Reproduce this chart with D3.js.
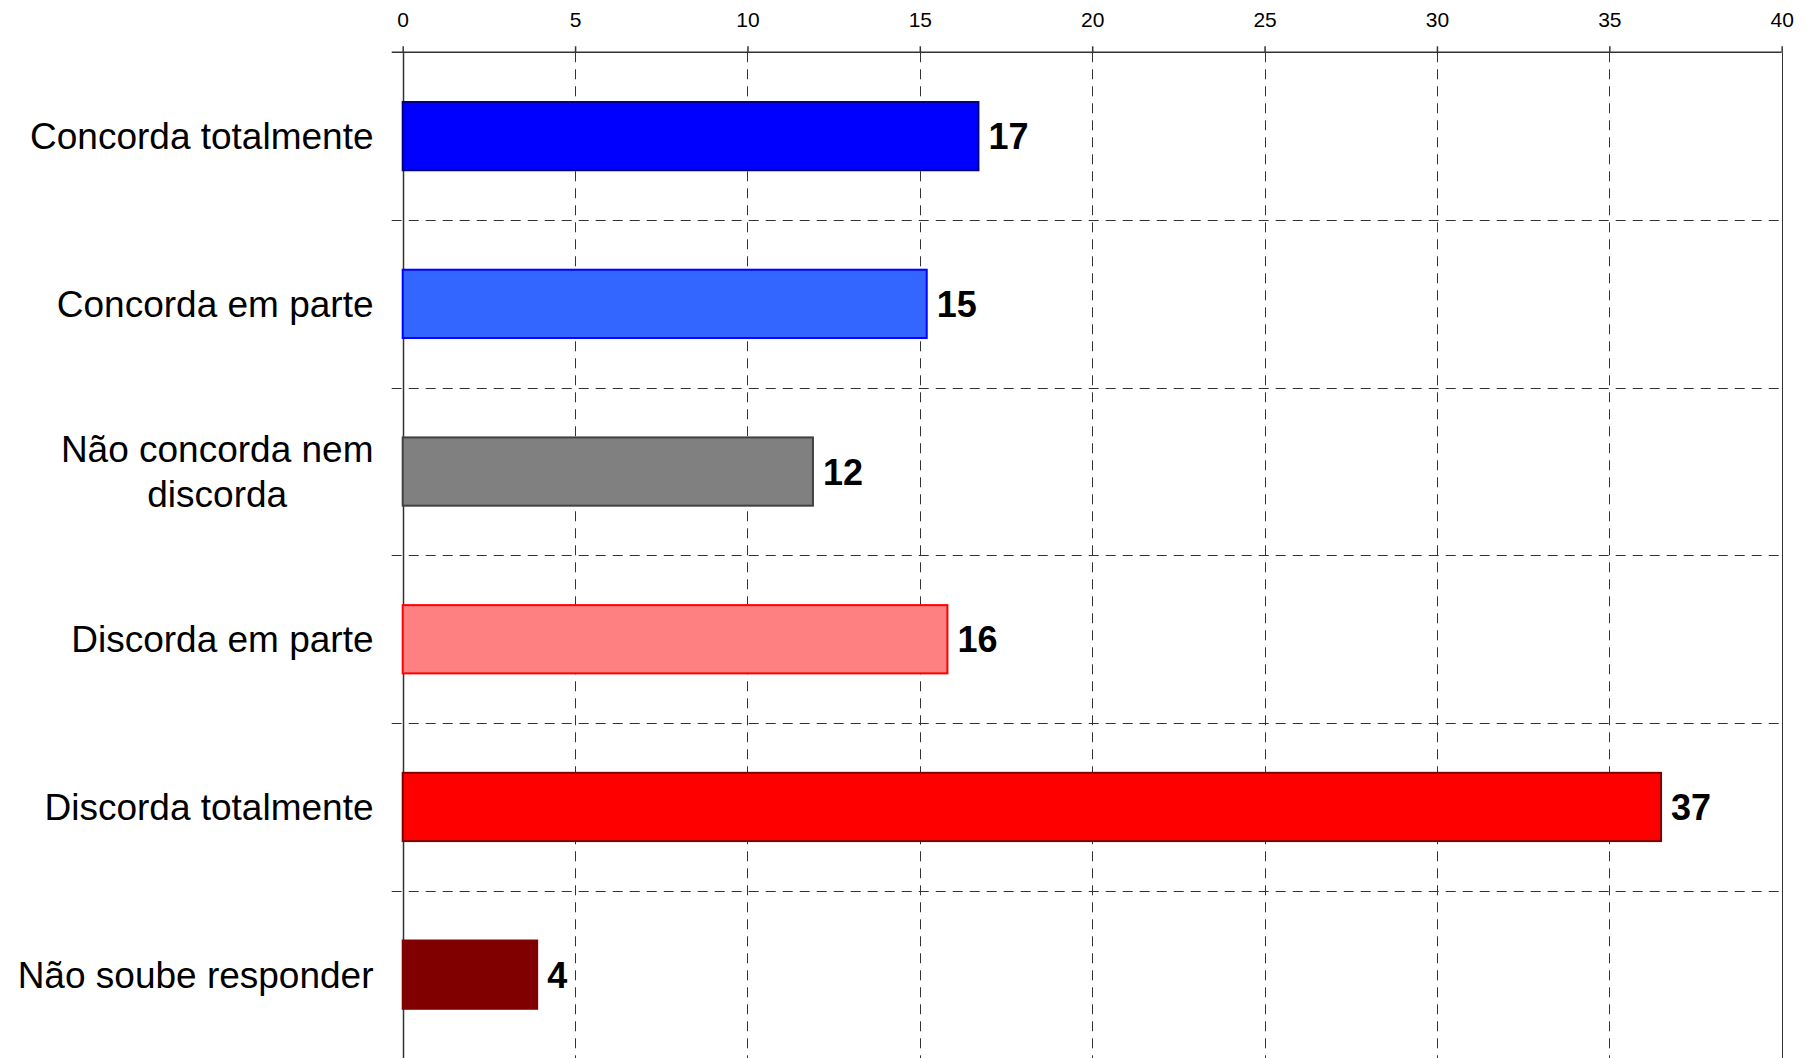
<!DOCTYPE html>
<html>
<head>
<meta charset="utf-8">
<script src="https://cdn.jsdelivr.net/npm/d3@7"></script>
<style>
  html, body { margin: 0; padding: 0; background: #fff; overflow: hidden; }
  text { font-family: "Liberation Sans", Arial, sans-serif; }
</style>
</head>
<body>
<svg id="chart" width="1811" height="1058"></svg>
<script>
const categories = ["Concorda totalmente", "Concorda em parte", "Não concorda nem discorda", "Discorda em parte", "Discorda totalmente", "Não soube responder"];
const values = [16.7, 15.2, 11.9, 15.8, 36.5, 3.9];
const labels = ["17", "15", "12", "16", "37", "4"];
const fills = ["#0000FF", "#3366FF", "#808080", "#FF8080", "#FF0000", "#800000"];
const strokes = ["#000080", "#0000FF", "#404040", "#FF0000", "#800000", "#800000"];
const tickValues = [0, 5, 10, 15, 20, 25, 30, 35, 40];

(function () {
const svg = d3.select("#chart");
const pLeft = 402.7, pRight = 1781.7, pTop = 52.3, step = 167.7;

const x = d3.scaleLinear().domain([0, 40]).range([pLeft, pRight]);
const y = d3.scaleBand().domain(categories)
  .range([pTop, pTop + step * categories.length])
  .paddingInner(0.593).paddingOuter(0.2965);

const pBottom = y.range()[1];

// vertical gridlines (dashed)
svg.append("g").selectAll("line").data(tickValues.filter(v => v > 0 && v < 40)).join("line")
  .attr("x1", d => Math.round(x(d)) + 0.5).attr("x2", d => Math.round(x(d)) + 0.5)
  .attr("y1", pTop).attr("y2", pBottom)
  .attr("stroke", "#333").attr("stroke-width", 1).attr("stroke-dasharray", "10,7");

// horizontal gridlines at band boundaries
const bounds = d3.range(1, categories.length).map(i => y.range()[0] + i * y.step());
svg.append("g").selectAll("line").data(bounds).join("line")
  .attr("x1", pLeft - 11).attr("x2", pRight)
  .attr("y1", d => Math.round(d) + 0.5).attr("y2", d => Math.round(d) + 0.5)
  .attr("stroke", "#333").attr("stroke-width", 1).attr("stroke-dasharray", "10,7");

// right border
svg.append("line")
  .attr("x1", Math.round(pRight) + 0.5).attr("x2", Math.round(pRight) + 0.5)
  .attr("y1", pTop).attr("y2", pBottom)
  .attr("stroke", "#333").attr("stroke-width", 1);

// left axis line
svg.append("line")
  .attr("x1", Math.round(pLeft) + 0.5).attr("x2", Math.round(pLeft) + 0.5)
  .attr("y1", pTop).attr("y2", pBottom)
  .attr("stroke", "#333").attr("stroke-width", 1.5);

// top axis
const axis = svg.append("g").attr("transform", `translate(0,${pTop})`)
  .call(d3.axisTop(x).tickValues(tickValues).tickSize(6).tickSizeOuter(0).tickPadding(19));
axis.select(".domain").remove();
axis.selectAll(".tick line").attr("stroke", "#333").attr("stroke-width", 1.5);
axis.selectAll(".tick text").attr("font-size", 21).attr("fill", "#000")
  .style("font-family", '"Liberation Sans", Arial, sans-serif');
svg.append("line").attr("x1", pLeft - 11).attr("x2", pRight)
  .attr("y1", pTop).attr("y2", pTop).attr("stroke", "#333").attr("stroke-width", 1.5);

// bars
svg.append("g").selectAll("rect").data(categories).join("rect")
  .attr("x", x(0))
  .attr("y", d => y(d))
  .attr("width", (d, i) => x(values[i]) - x(0))
  .attr("height", y.bandwidth())
  .attr("fill", (d, i) => fills[i])
  .attr("stroke", (d, i) => strokes[i])
  .attr("stroke-width", 2);

// value labels
svg.append("g").selectAll("text").data(categories).join("text")
  .attr("x", (d, i) => x(values[i]) + 10)
  .attr("y", d => y(d) + y.bandwidth() / 2)
  .attr("dy", "0.36em")
  .attr("font-size", 36).attr("font-weight", "bold").attr("fill", "#000")
  .text((d, i) => labels[i]);

// category labels with wrapping, centered lines, right-aligned block
const labelRight = 373.5;
const maxW = 365;
const fs = 37, lh = 45.6;
categories.forEach(cat => {
  const g = svg.append("g");
  const t = g.append("text").attr("font-size", fs).attr("fill", "#000").attr("text-anchor", "middle");
  const words = cat.split(" ");
  const lines = [];
  let cur = [];
  const probe = svg.append("text").attr("font-size", fs);
  words.forEach(w => {
    const test = cur.concat([w]).join(" ");
    probe.text(test);
    if (probe.node().getComputedTextLength() > maxW && cur.length) {
      lines.push(cur.join(" "));
      cur = [w];
    } else cur.push(w);
  });
  lines.push(cur.join(" "));
  probe.remove();
  const cy = y(cat) + y.bandwidth() / 2;
  lines.forEach((ln, k) => {
    t.append("tspan").attr("x", 0)
      .attr("y", cy + (k - (lines.length - 1) / 2) * lh)
      .attr("dy", "0.35em").text(ln);
  });
  const bb = t.node().getBBox();
  g.attr("transform", `translate(${labelRight - (bb.x + bb.width)},0)`);
});
})();
</script>
</body>
</html>
